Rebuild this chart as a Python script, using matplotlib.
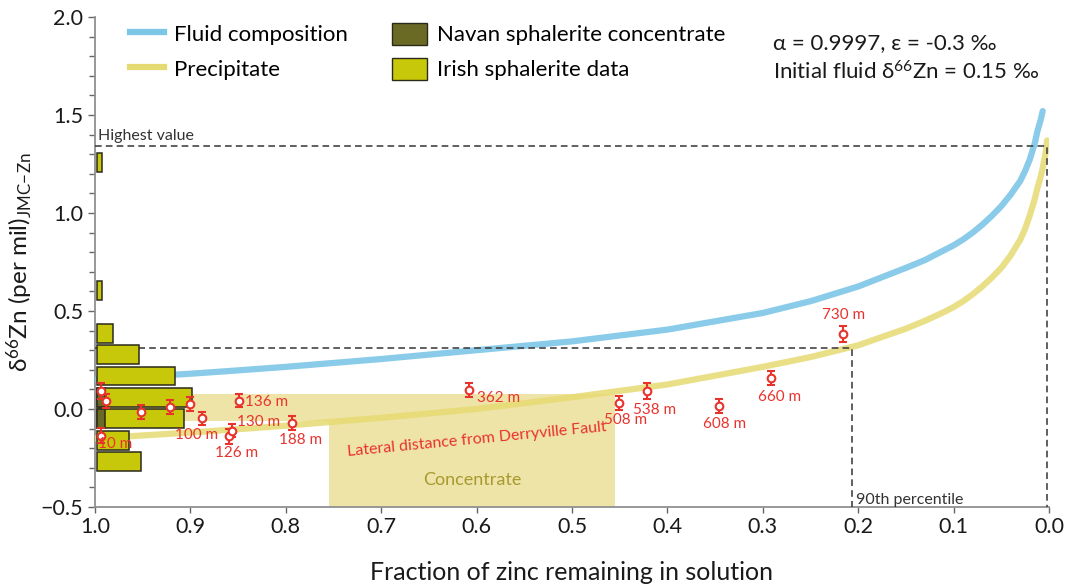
import matplotlib
matplotlib.use("Agg")
import numpy as np
import matplotlib.pyplot as plt
from matplotlib.lines import Line2D
from matplotlib.patches import Patch

plt.rcParams['font.family'] = ['Lato', 'DejaVu Sans']
plt.rcParams['mathtext.fontset'] = 'custom'
plt.rcParams['mathtext.rm'] = 'Lato'
plt.rcParams['mathtext.it'] = 'Lato:italic'

# Rayleigh curves
fluid_f = [1.0, 0.95, 0.9, 0.85, 0.8, 0.7, 0.6, 0.5, 0.4, 0.3, 0.25, 0.2, 0.15, 0.13,
           0.11, 0.1, 0.09, 0.08, 0.07, 0.06, 0.05, 0.04, 0.03, 0.025, 0.02, 0.015,
           0.012, 0.009, 0.0066]
fluid_d = [0.15, 0.165, 0.18, 0.197, 0.215, 0.255, 0.30, 0.345, 0.405, 0.49, 0.55, 0.625,
           0.72, 0.76, 0.81, 0.835, 0.865, 0.90, 0.94, 0.985, 1.035, 1.095, 1.165, 1.215,
           1.275, 1.355, 1.42, 1.47, 1.52]
precip_f = [1.0, 0.95, 0.9, 0.85, 0.8, 0.7, 0.6, 0.5, 0.4, 0.3, 0.25, 0.2, 0.15, 0.13,
            0.11, 0.1, 0.09, 0.08, 0.07, 0.06, 0.05, 0.04, 0.03, 0.025, 0.02, 0.015,
            0.012, 0.009, 0.007, 0.005, 0.0035, 0.002]
precip_d = [-0.15, -0.135, -0.12, -0.103, -0.085, -0.045, 0.0, 0.06, 0.125, 0.215, 0.265,
            0.325, 0.41, 0.45, 0.495, 0.52, 0.55, 0.585, 0.625, 0.67, 0.72, 0.785, 0.865,
            0.92, 0.99, 1.07, 1.13, 1.18, 1.22, 1.27, 1.31, 1.37]

# histogram of sphalerite d66Zn (bin bottoms, widths as fraction of x axis)
bin_lo = [-0.316, -0.207, -0.098, 0.011, 0.12, 0.229, 0.338, 0.556, 1.21]
bin_h = 0.096
irish_w = [0.046, 0.034, 0.091, 0.100, 0.082, 0.044, 0.0165, 0.005, 0.005]
navan_w = [0.0, 0.0, 0.009, 0.009, 0.0, 0.0, 0.0, 0.0, 0.0]

# Navan samples with lateral distance from Derryville Fault
pt_f = [0.994, 0.988, 0.994, 0.952, 0.921, 0.900, 0.888, 0.849, 0.860, 0.856, 0.793,
        0.608, 0.451, 0.421, 0.346, 0.291, 0.216]
pt_d = [0.093, 0.040, -0.136, -0.017, 0.012, 0.025, -0.048, 0.043, -0.140, -0.110, -0.070,
        0.097, 0.029, 0.093, 0.015, 0.160, 0.381]
pt_err = [0.04, 0.035, 0.04, 0.035, 0.035, 0.035, 0.035, 0.035, 0.04, 0.035, 0.035,
          0.035, 0.035, 0.04, 0.035, 0.035, 0.04]
pt_lab = ['', '', '10 m', '', '', '', '100 m', '136 m', '126 m', '130 m', '188 m',
          '362 m', '508 m', '538 m', '608 m', '660 m', '730 m']
lab_off = [(0, 0), (0, 0), (-3, -8), (0, 0), (0, 0), (0, 0), (-5, -17), (6, -1), (8, -17),
           (5, 9), (8, -17), (8, -8), (7, -17), (7, -19), (6, -18), (8, -19), (1, 19)]
lab_ha = ['left', 'left', 'left', 'left', 'left', 'left', 'center', 'left', 'center',
          'left', 'center', 'left', 'center', 'center', 'center', 'center', 'center']

highest = 1.34
highest_f = 0.0025
p90 = 0.31
p90_f = 0.207
conc_f = (0.755, 0.455)
conc_d = (-0.06, 0.075)

blue = '#7cc6e6'
yellow = '#e6da72'
tan = '#efe4a8'
red = '#e8332d'
dash = '#444444'

fig = plt.figure(figsize=(10.74, 5.88), dpi=100)
ax = fig.add_axes([95 / 1074, 81 / 588, 954 / 1074, 490 / 588])

# concentrate shading
ax.fill_between([1.0, conc_f[1]], conc_d[0], conc_d[1], color=tan, lw=0, zorder=1)
ax.fill_between(list(conc_f), -0.5, conc_d[1], color=tan, lw=0, zorder=1)
ax.text(0.605, -0.36, 'Concentrate', color='#a69a30', fontsize=13, ha='center',
        va='center', zorder=2)
ax.text(0.60, -0.155, 'Lateral distance from Derryville Fault', color=red, fontsize=11.5,
        ha='center', va='center', rotation=5.5, zorder=6)

# curves
ax.plot(fluid_f, fluid_d, color=blue, lw=4.5, alpha=0.9, solid_capstyle='round', zorder=3)
ax.plot(precip_f, precip_d, color=yellow, lw=4.5, alpha=0.85, solid_capstyle='round', zorder=3)

# dashed guide lines
ax.plot([1.0, highest_f, highest_f], [highest, highest, -0.5], ls=(0, (4, 2.5)),
        color=dash, lw=1.2, zorder=4)
ax.plot([1.0, p90_f, p90_f], [p90, p90, -0.5], ls=(0, (4, 2.5)),
        color=dash, lw=1.2, zorder=4)
ax.text(0.997, highest + 0.015, 'Highest value', fontsize=11.5, color='#333333',
        ha='left', va='bottom')
ax.text(p90_f - 0.005, -0.465, '90th percentile', fontsize=11.5, color='#333333',
        ha='left', va='center')

# histogram bars
ax.barh(bin_lo, [-w for w in irish_w], height=bin_h, left=0.998, align='edge',
        color='#c8c80a', edgecolor='#2a2a1a', lw=1.1, zorder=4)
for lo, w in zip(bin_lo, navan_w):
    if w > 0:
        ax.barh(lo, -w, height=bin_h, left=0.998, align='edge', color='#6b6a25',
                edgecolor='#2a2a1a', lw=1.1, zorder=4)

# data points
ax.errorbar(pt_f, pt_d, yerr=pt_err, fmt='o', ms=5.5, mfc='white', mec=red, mew=1.5,
            ecolor=red, elinewidth=1.5, capsize=3, capthick=1.5, zorder=7)
for f, d, t, off, ha in zip(pt_f, pt_d, pt_lab, lab_off, lab_ha):
    if t:
        ax.annotate(t, (f, d), xytext=off, textcoords='offset pixels', color=red,
                    fontsize=11, ha=ha, va='center', zorder=8)

ax.set_xlim(1.0, 0.0)
ax.set_ylim(-0.5, 2.0)
ax.set_xticks(np.arange(0, 1.01, 0.1))
ax.set_xticklabels(['%.1f' % v for v in np.arange(0, 1.01, 0.1)])
ax.set_yticks(np.arange(-0.5, 2.01, 0.5))
ax.set_yticks(np.arange(-0.5, 2.01, 0.1), minor=True)
for s in ['top', 'right']:
    ax.spines[s].set_visible(False)
for s in ['left', 'bottom']:
    ax.spines[s].set_color('#909090')
    ax.spines[s].set_linewidth(1.3)
ax.tick_params(axis='both', which='both', color='#666666', labelsize=15.5,
               labelcolor='#1a1a1a', direction='out', length=4, width=1)
ax.tick_params(axis='y', which='major', length=5)
ax.set_xlabel('Fraction of zinc remaining in solution', fontsize=18, color='#1a1a1a',
              labelpad=17)
ax.set_ylabel('δ$^{\\mathrm{66}}$Zn (per mil)$_{\\mathrm{JMC\\!-\\!Zn}}$', fontsize=17.5,
              color='#1a1a1a', labelpad=4)

handles = [Line2D([], [], color=blue, lw=4.5),
           Line2D([], [], color=yellow, lw=4.5),
           Patch(facecolor='#6b6a25', edgecolor='#2a2a1a'),
           Patch(facecolor='#c8c80a', edgecolor='#2a2a1a')]
names = ['Fluid composition', 'Precipitate', 'Navan sphalerite concentrate',
         'Irish sphalerite data']
fig.legend(handles, names, ncol=2, loc='upper left', bbox_to_anchor=(0.102, 0.995),
           frameon=False, fontsize=16, handlelength=1.55, handleheight=1.15,
           columnspacing=2.0, labelspacing=0.55, handletextpad=0.45)

fig.text(773 / 1074, 1 - 43 / 588, 'α = 0.9997, ε = -0.3 ‰', fontsize=16,
         color='#1a1a1a', va='center')
fig.text(773 / 1074, 1 - 72 / 588, 'Initial fluid δ$^{\\mathrm{66}}$Zn = 0.15 ‰',
         fontsize=16, color='#1a1a1a', va='center')

fig.savefig('out.png', dpi=100)
